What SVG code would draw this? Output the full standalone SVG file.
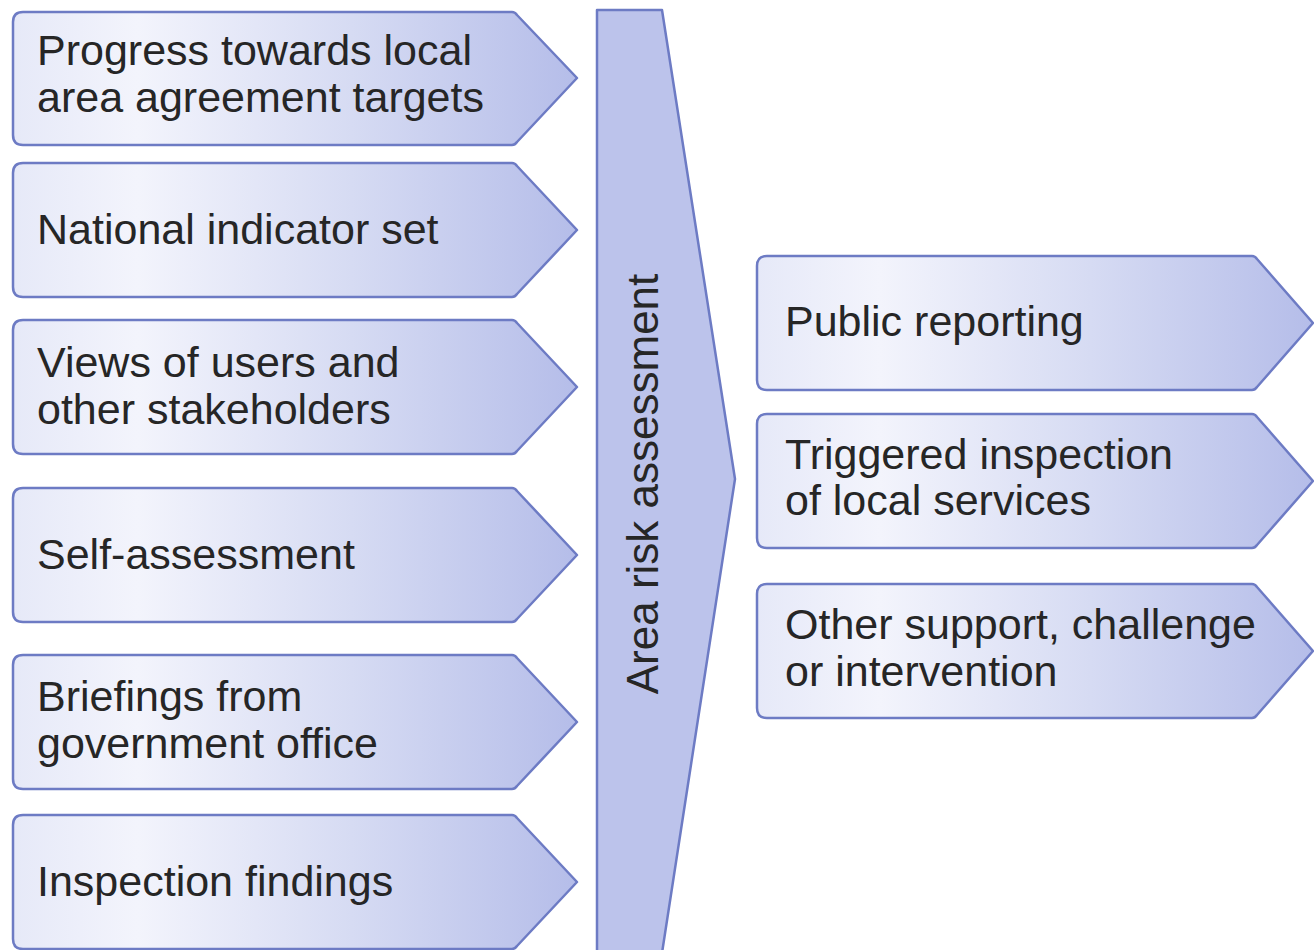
<svg xmlns="http://www.w3.org/2000/svg" width="1314" height="950" viewBox="0 0 1314 950">
<defs>
<linearGradient id="g" x1="0" y1="0" x2="1" y2="0">
<stop offset="0" stop-color="#e6e9f8"/>
<stop offset="0.22" stop-color="#f3f4fc"/>
<stop offset="0.6" stop-color="#d6dbf3"/>
<stop offset="1" stop-color="#b5bde9"/>
</linearGradient>
<style>
.box{fill:url(#g);stroke:#6d7bc4;stroke-width:2.5;stroke-linejoin:round}
.mid{fill:#bcc3eb;stroke:#6d7bc4;stroke-width:2.5;stroke-linejoin:round}
text{font-family:"Liberation Sans",Arial,sans-serif;font-size:43px;fill:#262626}
</style>
</defs>
<rect width="1314" height="950" fill="#ffffff"/>
<g id="left1"><path class="box" d="M23 12 H512 Q515 12 517 15 L577 78 L517 142 Q515 145 512 145 H23 Q13 145 13 135 V22 Q13 12 23 12 Z"/><text x="37" y="65">Progress towards local</text><text x="37" y="112">area agreement targets</text></g>
<g id="left2"><path class="box" d="M23 163 H512 Q515 163 517 166 L577 230 L517 294 Q515 297 512 297 H23 Q13 297 13 287 V173 Q13 163 23 163 Z"/><text x="37" y="244">National indicator set</text></g>
<g id="left3"><path class="box" d="M23 320 H512 Q515 320 517 323 L577 387 L517 451 Q515 454 512 454 H23 Q13 454 13 444 V330 Q13 320 23 320 Z"/><text x="37" y="377">Views of users and</text><text x="37" y="424">other stakeholders</text></g>
<g id="left4"><path class="box" d="M23 488 H512 Q515 488 517 491 L577 555 L517 619 Q515 622 512 622 H23 Q13 622 13 612 V498 Q13 488 23 488 Z"/><text x="37" y="569">Self-assessment</text></g>
<g id="left5"><path class="box" d="M23 655 H512 Q515 655 517 658 L577 722 L517 786 Q515 789 512 789 H23 Q13 789 13 779 V665 Q13 655 23 655 Z"/><text x="37" y="711">Briefings from</text><text x="37" y="758">government office</text></g>
<g id="left6"><path class="box" d="M23 815 H512 Q515 815 517 818 L577 882 L517 946 Q515 949 512 949 H23 Q13 949 13 939 V825 Q13 815 23 815 Z"/><text x="37" y="896">Inspection findings</text></g>
<g id="centre"><path class="mid" d="M597 10 H662 L735 479 L662 953 H597 Z"/><text transform="translate(658 484) rotate(-90)" text-anchor="middle" style="font-size:44px">Area risk assessment</text></g>
<g id="right1"><path class="box" d="M767 256 H1252 Q1255 256 1257 259 L1313 323 L1257 387 Q1255 390 1252 390 H767 Q757 390 757 380 V266 Q757 256 767 256 Z"/><text x="785" y="336">Public reporting</text></g>
<g id="right2"><path class="box" d="M767 414 H1252 Q1255 414 1257 417 L1313 481 L1257 545 Q1255 548 1252 548 H767 Q757 548 757 538 V424 Q757 414 767 414 Z"/><text x="785" y="469">Triggered inspection</text><text x="785" y="515">of local services</text></g>
<g id="right3"><path class="box" d="M767 584 H1252 Q1255 584 1257 587 L1313 651 L1257 715 Q1255 718 1252 718 H767 Q757 718 757 708 V594 Q757 584 767 584 Z"/><text x="785" y="639">Other support, challenge</text><text x="785" y="686">or intervention</text></g>
<g id="connectors"></g>
</svg>
